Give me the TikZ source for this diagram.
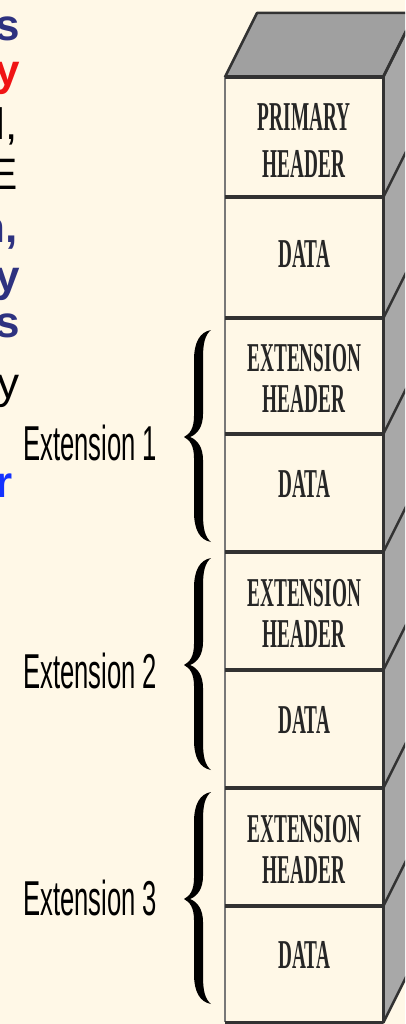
\documentclass[tikz,border=0pt]{standalone}
\usepackage{fontspec}
\setmainfont{Liberation Serif}
\setsansfont{Liberation Sans}
\usepackage{graphicx}

\definecolor{cream}{RGB}{255,248,231}
\definecolor{topgray}{RGB}{160,160,160}
\definecolor{sidegray}{RGB}{168,168,168}
\definecolor{edgedark}{RGB}{50,50,50}
\definecolor{edgegray}{RGB}{120,120,120}
\definecolor{navy}{RGB}{46,50,128}
\definecolor{hotred}{RGB}{240,20,20}
\definecolor{brightblue}{RGB}{20,50,255}

% horizontally condensed text
\newcommand\narrowtext[1]{\scalebox{0.47}[1]{#1}}
\newcommand\narrowlabel[1]{\scalebox{0.523}[1]{#1}}

% a curly brace as a filled outline, top end at height #1
\newcommand\curlybrace[1]{%
  \fill[bracefill, shift={(0,#1)}]
    (211,0) .. controls (200,2) and (194,12) .. (194,30)
    -- (194,86) .. controls (194,98) and (190,104) .. (184,107)
    .. controls (190,110) and (194,116) .. (194,128)
    -- (194,182) .. controls (194,200) and (200,210) .. (211,212)
    .. controls (205,207) and (203,199) .. (203,184)
    -- (203,130) .. controls (203,118) and (198,110) .. (190,107)
    .. controls (198,104) and (203,96) .. (203,84)
    -- (203,28) .. controls (203,13) and (205,5) .. (211,0) -- cycle;}

\tikzset{
  sect/.style={rectangle, fill=cream, minimum width=158pt, inner sep=0pt, anchor=north west},
  word/.style={inner sep=0pt, align=center, text=black!85},
  primfont/.style={font=\bfseries\fontsize{41}{47}\selectfont},
  extfont/.style={font=\bfseries\fontsize{41}{41}\selectfont},
  edge/.style={draw=edgedark, line width=2.5pt, line cap=round, line join=round},
  divider/.style={draw=edgedark, line width=3.2pt},
  leftedge/.style={draw=edgegray, line width=2pt},
  bracefill/.style={fill=black},
  extlabel/.style={inner sep=0pt, anchor=base west, font=\sffamily\fontsize{49}{49}\selectfont},
  frag/.style={inner sep=0pt, anchor=base east, font=\sffamily\fontsize{44}{44}\selectfont},
  fragbold/.style={frag, font=\sffamily\bfseries\fontsize{44}{44}\selectfont},
}

\begin{document}
\begin{tikzpicture}[x=1pt, y=-1pt]
\useasboundingbox (0,0) rectangle (405,1024);
\fill[cream] (0,0) rectangle (405,1024);
\clip (0,0) rectangle (405,1024);

% ends of the running text on the left
\node[fragbold, text=navy]       (f1) at (20,41)  {s};
\node[fragbold, text=hotred]     (f2) at (20,86)  {y};
\node[frag, text=black]          (f3) at (18,140) {l,};
\node[frag, text=black]          (f4) at (18,190) {E};
\node[fragbold, text=navy]       (f5) at (18,242) {n,};
\node[fragbold, text=navy]       (f6) at (20,291) {y};
\node[fragbold, text=navy]       (f7) at (20,337) {s};
\node[frag, text=black]          (f8) at (20,398) {y};
\node[fragbold, text=brightblue] (f9) at (13,497) {r};

% top and side faces of the stack
\fill[topgray]  (225,77) -- (257,13) -- (415,13) -- (383,77) -- cycle;
\fill[sidegray] (383,77) -- (415,13) -- (415,958) -- (383,1022) -- cycle;
\draw[edge] (225,77) -- (257,13) -- (415,13);
\draw[edge] (383,77) -- (415,13);

% front face sections
\node[sect, minimum height=120pt] (s1) at (225,77)  {};
\node[sect, minimum height=121pt] (s2) at (225,197) {};
\node[sect, minimum height=116pt] (s3) at (225,318) {};
\node[sect, minimum height=118pt] (s4) at (225,434) {};
\node[sect, minimum height=118pt] (s5) at (225,552) {};
\node[sect, minimum height=118pt] (s6) at (225,670) {};
\node[sect, minimum height=118pt] (s7) at (225,788) {};
\node[sect, minimum height=116pt] (s8) at (225,906) {};

% section edges and receding diagonals
\draw[leftedge] (s1.north west) -- (s8.south west);
\foreach \s in {s1,s2,s3,s4,s5,s6,s7,s8}{
  \draw[divider] (\s.north west) -- (\s.north east);
  \draw[edge] (\s.north east) -- ++(32,-64);
}
\draw[divider] (s8.south west) -- (s8.south east);
\draw[edge] (s8.south east) -- ++(32,-64);
\draw[edge] (s1.north east) -- (s8.south east);

% section texts
\node[word, primfont] (t1) at ([yshift=-3pt]s1.center) {\narrowtext{PRIMARY}\\\narrowtext{HEADER}};
\node[word, primfont] (t2) at ([yshift=4pt]s2.center) {\narrowtext{DATA}};
\node[word, extfont]  (t3) at ([yshift=-2pt]s3.center) {\narrowtext{EXTENSION}\\\narrowtext{HEADER}};
\node[word, primfont] (t4) at ([yshift=9pt]s4.center) {\narrowtext{DATA}};
\node[word, extfont]  (t5) at ([yshift=-2pt]s5.center) {\narrowtext{EXTENSION}\\\narrowtext{HEADER}};
\node[word, primfont] (t6) at ([yshift=9pt]s6.center) {\narrowtext{DATA}};
\node[word, extfont]  (t7) at ([yshift=-2pt]s7.center) {\narrowtext{EXTENSION}\\\narrowtext{HEADER}};
\node[word, primfont] (t8) at ([yshift=9pt]s8.center) {\narrowtext{DATA}};

% braces grouping each extension
\curlybrace{330}
\curlybrace{558}
\curlybrace{792}

% extension labels
\node[extlabel] (e1) at (23,460) {\narrowlabel{Extension 1}};
\node[extlabel] (e2) at (23,688) {\narrowlabel{Extension 2}};
\node[extlabel] (e3) at (23,915) {\narrowlabel{Extension 3}};
\end{tikzpicture}
\end{document}
